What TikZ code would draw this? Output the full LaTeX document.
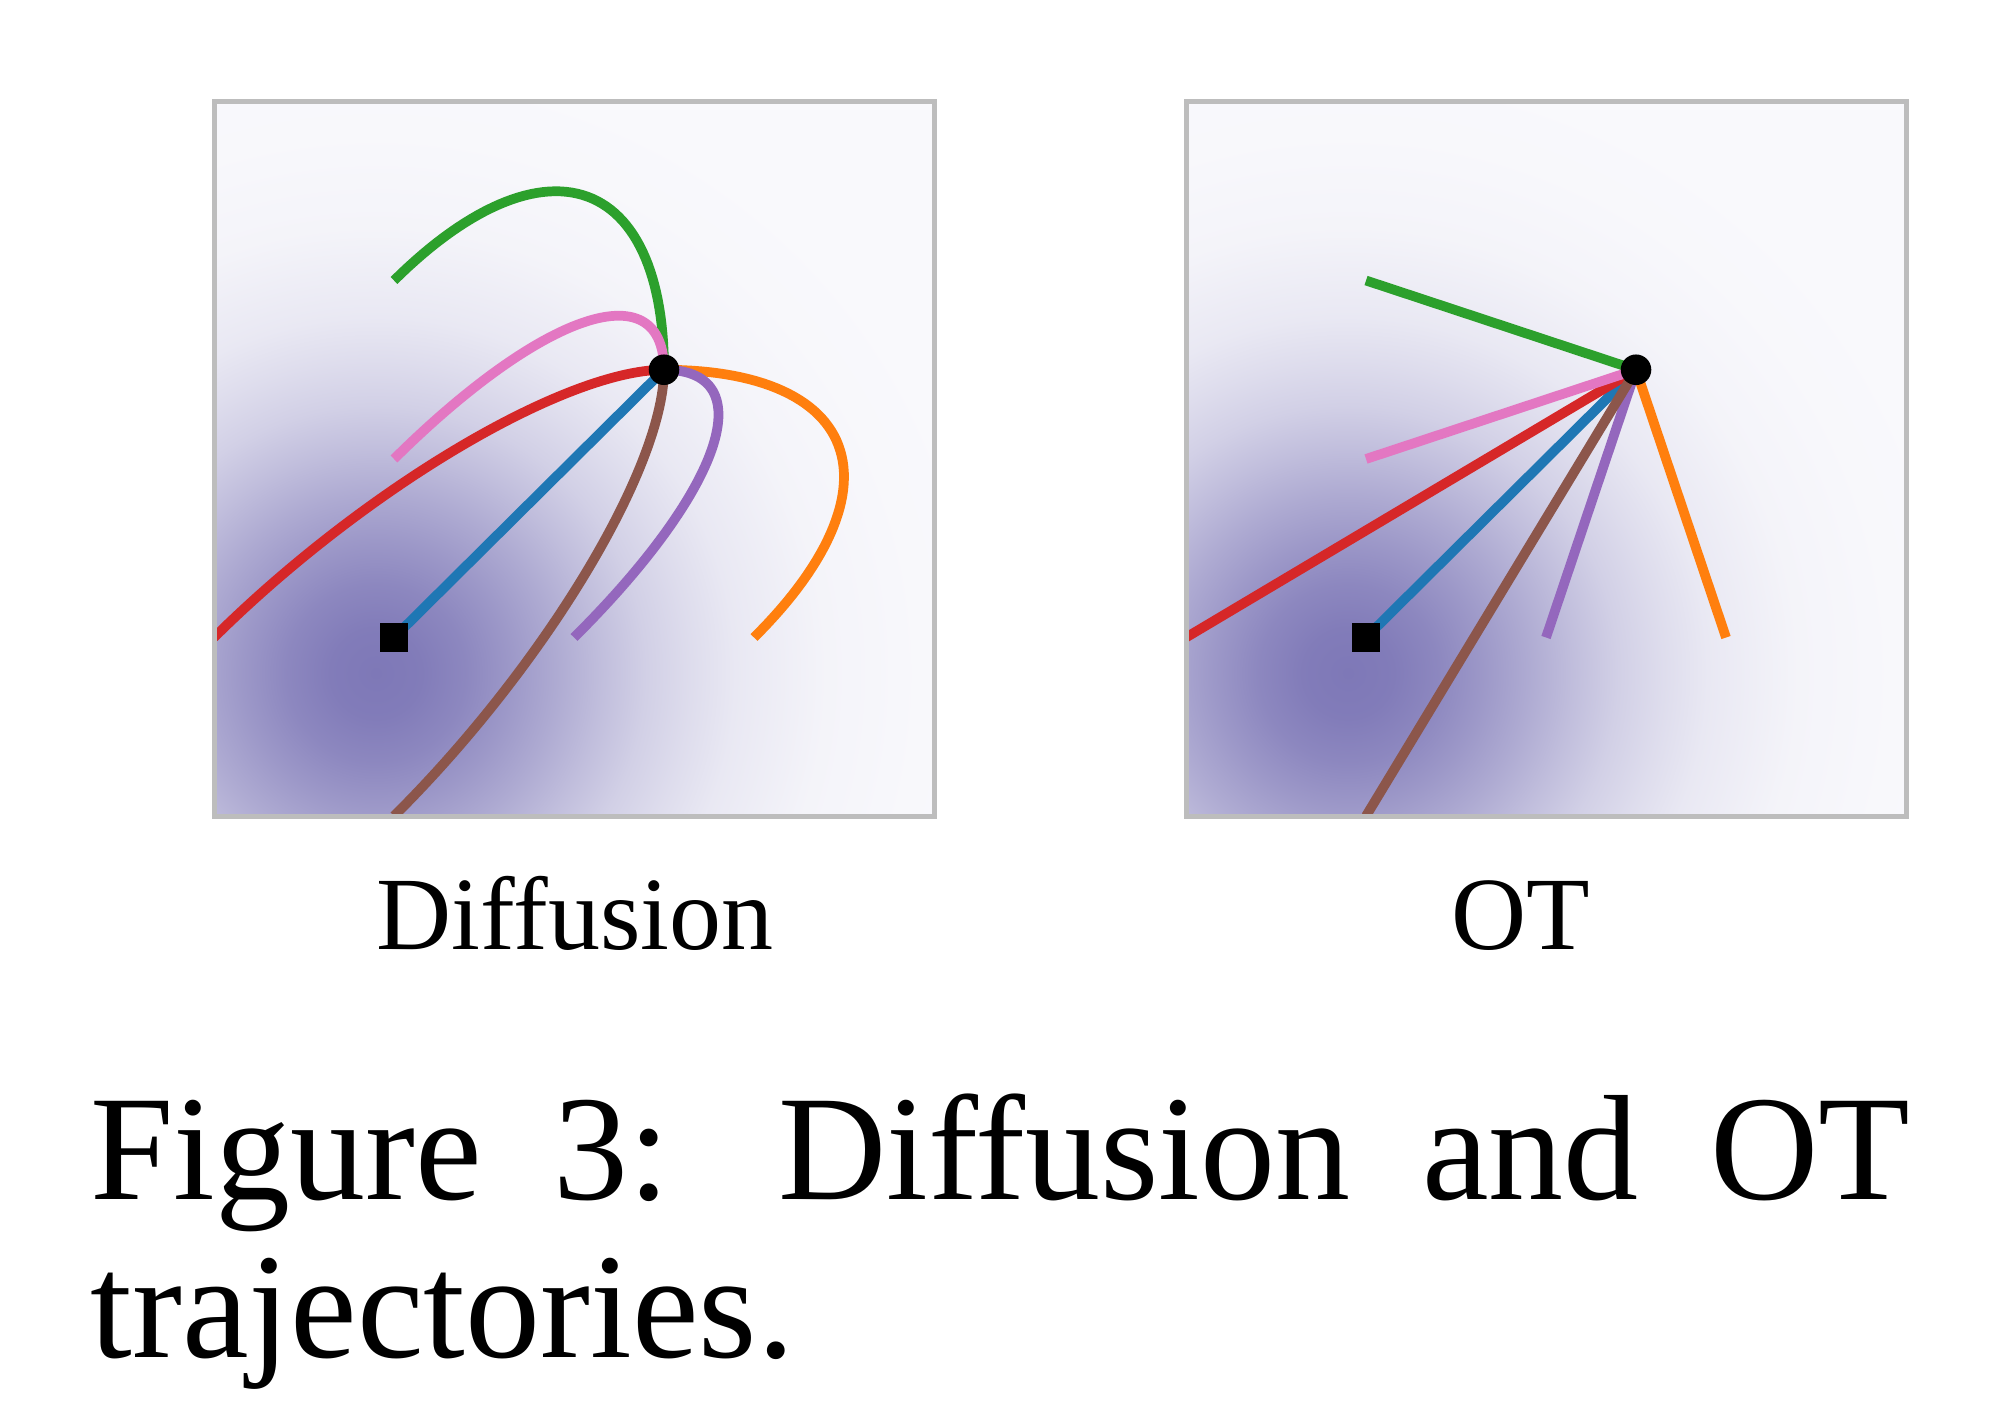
\documentclass[tikz,border=0pt]{standalone}
\usepackage{fontspec}
\setmainfont{Liberation Serif}
\definecolor{gc}{HTML}{7E78B7}
\definecolor{bgc}{HTML}{F9F9FC}
\definecolor{frm}{HTML}{BDBDBD}
\definecolor{tblue}{HTML}{1F77B4}
\definecolor{torange}{HTML}{FF7F0E}
\definecolor{tgreen}{HTML}{2CA02C}
\definecolor{tred}{HTML}{D62728}
\definecolor{tpurple}{HTML}{9467BD}
\definecolor{tbrown}{HTML}{8C564B}
\definecolor{tpink}{HTML}{E377C2}
\colorlet{ga}{gc!97!bgc}
\colorlet{gb}{gc!88!bgc}
\colorlet{gd}{gc!75!bgc}
\colorlet{ge}{gc!61!bgc}
\colorlet{gf}{gc!46!bgc}
\colorlet{gg}{gc!32!bgc}
\colorlet{gh}{gc!22!bgc}
\colorlet{gi}{gc!13!bgc}
\colorlet{gj}{gc!4!bgc}
\colorlet{gk}{gc!1!bgc}
% the path's bounding box maps onto the central 50bp square: 25bp = radius 4.6
\pgfdeclareradialshading{gauss}{\pgfpoint{0bp}{0bp}}{%
color(0bp)=(gc); color(1.36bp)=(ga); color(2.72bp)=(gb); color(4.08bp)=(gd);
color(5.43bp)=(ge); color(6.79bp)=(gf); color(8.15bp)=(gg); color(9.51bp)=(gh);
color(10.87bp)=(gi); color(13.59bp)=(gj); color(16.3bp)=(gk); color(19.02bp)=(bgc); color(50bp)=(bgc)}
\tikzset{
  traj/.style={line width=3.5pt},
  panelframe/.style={draw=frm, line width=1.8pt},
  lbl/.style={font=\fontsize{37.44pt}{45pt}\selectfont, inner sep=0pt, anchor=base},
  captxt/.style={font=\fontsize{54pt}{64pt}\selectfont, inner sep=0pt, anchor=base west},
  tgt/.style={circle, fill=black, inner sep=0pt, minimum size=11pt},
  src/.style={rectangle, fill=black, inner sep=0pt, minimum size=10.2pt},
}
\newcommand\panelback{%
  \fill[bgc] (0,0) rectangle (4,4);
  \shade[shading=gauss] (0.9,0.8) circle[radius=4.6];
}
\begin{document}
\begin{tikzpicture}[x=0.36pt, y=0.36pt]
\useasboundingbox (0,0) rectangle (2000,1416);
\fill[white] (0,0) rectangle (2000,1416);

% ---------- Diffusion panel ----------
\begin{scope}[shift={(214,600)}, x=64.8pt, y=64.26pt]
  \begin{scope}
    \clip (0,0) rectangle (4,4);
    \panelback
    \coordinate (Lt) at (2.5,2.5);
    % trajectories x = m + cos(t) a + sin(t) b, m=(1,1), a=(1.5,1.5)
    \draw[traj, tblue]   plot[domain=0:90, samples=60] ({1+1.5*cos(\x)}, {1+1.5*cos(\x)});
    \draw[traj, torange] plot[domain=0:90, samples=60] ({1+1.5*cos(\x)+2*sin(\x)}, {1+1.5*cos(\x)});
    \draw[traj, tgreen]  plot[domain=0:90, samples=60] ({1+1.5*cos(\x)}, {1+1.5*cos(\x)+2*sin(\x)});
    \draw[traj, tred]    plot[domain=0:90, samples=60] ({1+1.5*cos(\x)-sin(\x)}, {1+1.5*cos(\x)});
    \draw[traj, tpurple] plot[domain=0:90, samples=60] ({1+1.5*cos(\x)+sin(\x)}, {1+1.5*cos(\x)});
    \draw[traj, tbrown]  plot[domain=0:90, samples=60] ({1+1.5*cos(\x)}, {1+1.5*cos(\x)-sin(\x)});
    \draw[traj, tpink]   plot[domain=0:90, samples=60] ({1+1.5*cos(\x)}, {1+1.5*cos(\x)+sin(\x)});
    \node[src] (Ls) at (1,1) {};
    \node[tgt] (Ltd) at (Lt) {};
  \end{scope}
  \draw[panelframe] (0,0) rectangle (4,4);
\end{scope}

% ---------- OT panel ----------
\begin{scope}[shift={(1186,600)}, x=64.8pt, y=64.26pt]
  \begin{scope}
    \clip (0,0) rectangle (4,4);
    \panelback
    \coordinate (Rt) at (2.5,2.5);
    \coordinate (Rorange) at (3,1);
    \coordinate (Rgreen) at (1,3);
    \coordinate (Rred) at (0,1);
    \coordinate (Rpurple) at (2,1);
    \coordinate (Rbrown) at (1,0);
    \coordinate (Rpink) at (1,2);
    \node[src] (Rs) at (1,1) {};
    \draw[traj, tblue]   (Rt) -- (Rs.center);
    \draw[traj, torange] (Rt) -- (Rorange);
    \draw[traj, tgreen]  (Rt) -- (Rgreen);
    \draw[traj, tred]    (Rt) -- (Rred);
    \draw[traj, tpurple] (Rt) -- (Rpurple);
    \draw[traj, tbrown]  (Rt) -- (Rbrown);
    \draw[traj, tpink]   (Rt) -- (Rpink);
    \node[src] (Rs2) at (Rs.center) {};
    \node[tgt] (Rtd) at (Rt) {};
  \end{scope}
  \draw[panelframe] (0,0) rectangle (4,4);
\end{scope}

% ---------- labels ----------
\node[lbl] (ldiff) at (575,467) {Diffusion};
\node[lbl] (lot) at (1521,467) {OT};

% ---------- caption ----------
\node[captxt] (cap1) at (90,217) {\hbox to 655.2pt{Figure\hfil 3:\hskip 0pt plus 1.5fil Diffusion\hfil and\hfil OT}};
\node[captxt] (cap2) at (90,59) {trajectories.};
\end{tikzpicture}
\end{document}
